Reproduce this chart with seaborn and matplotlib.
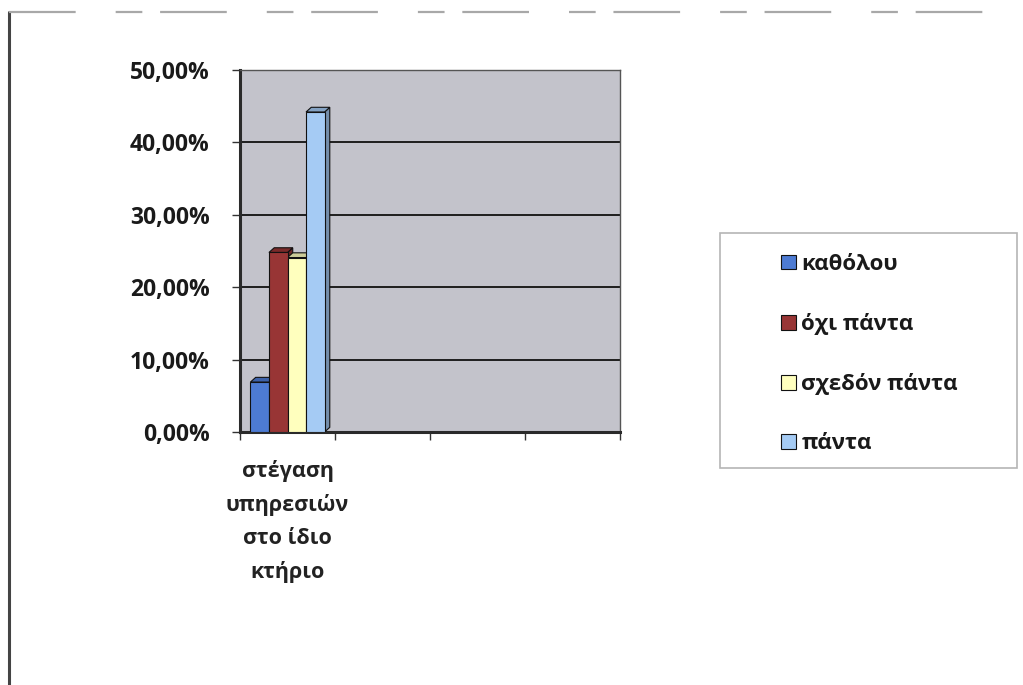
import matplotlib
matplotlib.use("Agg")
import matplotlib.pyplot as plt
import seaborn as sns
import pandas as pd
from matplotlib.patches import Polygon, Rectangle
from matplotlib.lines import Line2D
from matplotlib.colors import to_rgb

# Survey question (only the first category slot carries data)
categories = ["στέγαση\nυπηρεσιών\nστο ίδιο\nκτήριο", " ", "  ", "   "]
responses = ["καθόλου", "όχι πάντα", "σχεδόν πάντα", "πάντα"]
shares = [0.069, 0.248, 0.241, 0.442]
colors = ["#4d7bd3", "#983535", "#ffffbe", "#a5cbf4"]
yticks = [0.0, 0.1, 0.2, 0.3, 0.4, 0.5]
ytick_labels = ["0,00%", "10,00%", "20,00%", "30,00%", "40,00%", "50,00%"]

df = pd.DataFrame({
    "category": [categories[0]] * len(responses),
    "response": responses,
    "share": shares,
})

sns.set_theme(style="white")
plt.rcParams["font.family"] = ["Open Sans", "DejaVu Sans"]

fig = plt.figure(figsize=(10.23, 6.85), dpi=100)
fig.patch.set_facecolor("white")

ax = fig.add_axes([0.2346, 0.3693, 0.3715, 0.5285])
ax.set_facecolor("#c3c3cb")

sns.barplot(
    data=df, x="category", y="share", hue="response",
    order=categories, hue_order=responses, palette=colors,
    width=0.78, edgecolor="#111111", linewidth=0.8, saturation=1,
    ax=ax, zorder=3,
)

# pseudo-3D depth: top and side faces derived from each bar's geometry
dx, dy = 0.055, 0.0065


def shade(c, f):
    r, g, b = to_rgb(c)
    return (r * f, g * f, b * f)


for container, col in zip(ax.containers, colors):
    for bar in container:
        x0 = bar.get_x()
        x1 = x0 + bar.get_width()
        h = bar.get_height()
        side = Polygon([(x1, 0), (x1 + dx, dy), (x1 + dx, h + dy), (x1, h)],
                       closed=True, facecolor=shade(col, 0.7),
                       edgecolor="#111111", lw=0.8, zorder=2.9)
        top = Polygon([(x0, h), (x0 + dx, h + dy), (x1 + dx, h + dy), (x1, h)],
                      closed=True, facecolor=shade(col, 0.8),
                      edgecolor="#111111", lw=0.8, zorder=2.9)
        ax.add_patch(side)
        ax.add_patch(top)

ax.set_xlim(-0.5, 3.5)
ax.set_ylim(0, 0.5)
ax.set_yticks(yticks)
ax.set_yticklabels(ytick_labels, fontsize=16.5, fontweight="bold", color="#1a1a1a")
ax.yaxis.grid(True, color="#1e1e1e", lw=1.4, zorder=1)
ax.xaxis.grid(False)
ax.set_axisbelow(True)

ax.set_xticks([0])
ax.set_xticklabels([categories[0]], fontsize=15.5, fontweight="bold",
                   color="#222222", linespacing=1.72)
ax.set_xticks([-0.5, 0.5, 1.5, 2.5, 3.5], minor=True)
ax.tick_params(axis="x", which="major", length=0, pad=20)
ax.tick_params(axis="x", which="minor", length=6, width=1, color="#333333",
               direction="out", bottom=True)
ax.tick_params(axis="y", length=6, width=1, color="#333333", direction="out",
               left=True, pad=16)
ax.set_xlabel("")
ax.set_ylabel("")

for name in ["top", "right"]:
    ax.spines[name].set_visible(True)
    ax.spines[name].set_color("#555555")
    ax.spines[name].set_linewidth(1.0)
ax.spines["left"].set_color("#2a2a2a")
ax.spines["left"].set_linewidth(2.2)
ax.spines["bottom"].set_color("#2a2a2a")
ax.spines["bottom"].set_linewidth(2.2)

# legend on the right, inside its own framed box
handles, labels = ax.get_legend_handles_labels()
ax.get_legend().remove()
fig.legend(
    handles, labels, loc="center", bbox_to_anchor=(0.85, 0.483),
    frameon=False, prop={"size": 16, "weight": "bold"},
    handlelength=0.65, handleheight=0.65, handletextpad=0.25,
    labelspacing=1.72, labelcolor="#1a1a1a",
)
fig.add_artist(Rectangle((0.704, 0.317), 0.29, 0.343, transform=fig.transFigure,
                         facecolor="none", edgecolor="#b5b5b5", lw=1.2))

# outer frame: solid left edge and a broken top rule
fig.add_artist(Line2D([0.009, 0.009], [0.0, 0.982], transform=fig.transFigure,
                      color="#444444", lw=2.2))
fig.add_artist(Line2D([0.009, 0.995], [0.982, 0.982], transform=fig.transFigure,
                      color="#a8a8a8", lw=1.6, dashes=(30, 18, 12, 8)))

fig.savefig("out.png", dpi=100, facecolor="white")
